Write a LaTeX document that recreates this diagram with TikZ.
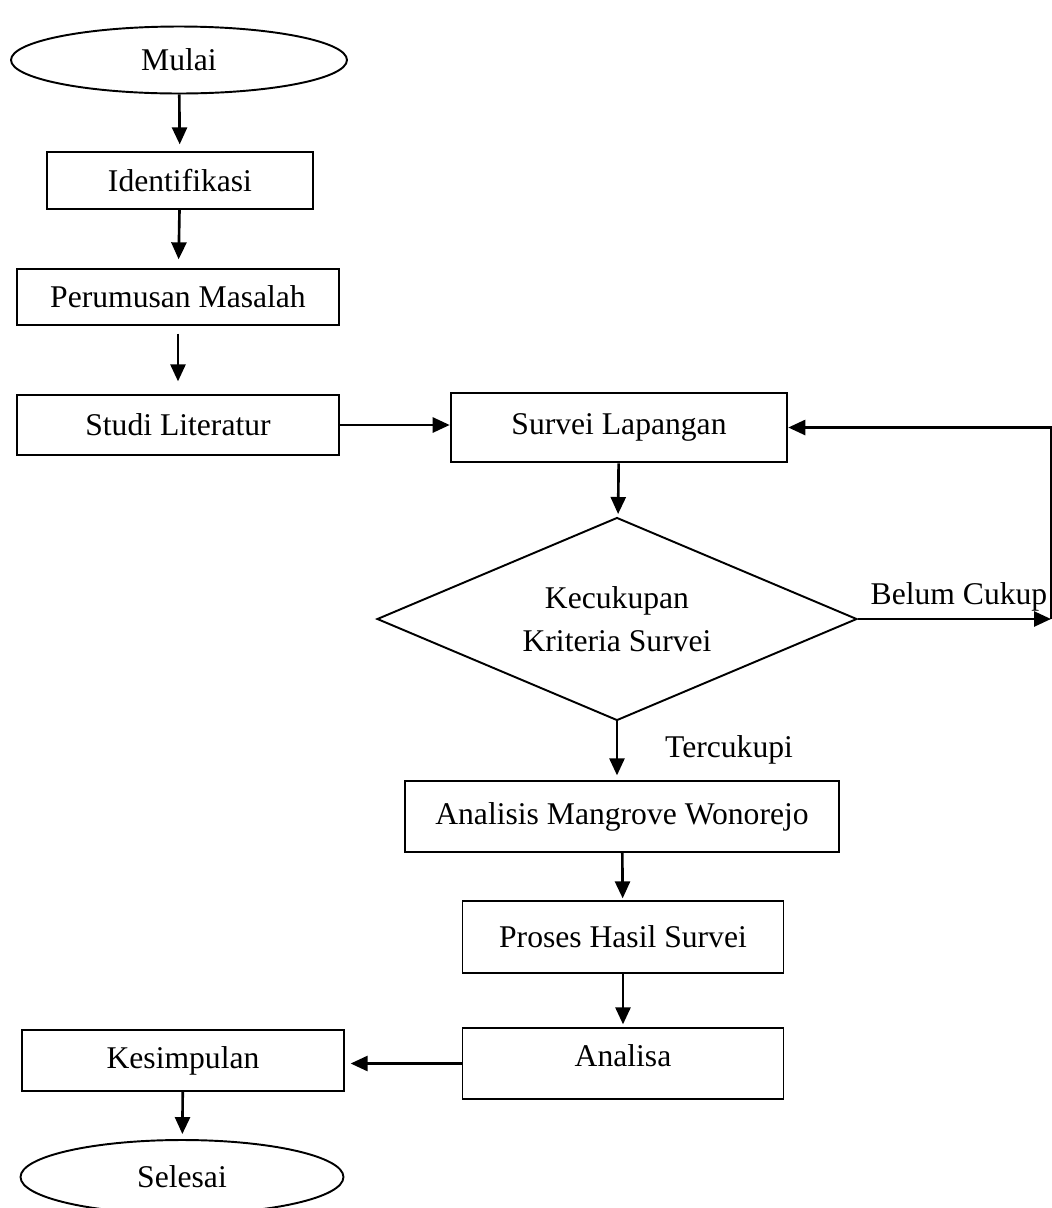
\documentclass[tikz,border=0pt]{standalone}
\usepackage{fontspec}
\setmainfont{Liberation Serif}
\usetikzlibrary{arrows.meta, positioning, shapes.geometric, calc}
\tikzset{
  procbox/.style={draw, line width=0.75pt, inner sep=2pt},
  termnode/.style={draw, ellipse, line width=1.1pt, inner sep=0pt},
  decide/.style={draw, diamond, shape aspect=2.4, line width=1.1pt, inner sep=0pt,
    align=center, font=\fontsize{18}{24.5}\selectfont},
  conn/.style={->, line width=1.5pt},
  connlabel/.style={inner sep=0pt}
}

\begin{document}
\begin{tikzpicture}[x=0.02cm, y=-0.02cm, font=\fontsize{18}{22}\selectfont,
  >={Triangle[length=0.34cm, width=0.3cm]}]
  \useasboundingbox (0,0) rectangle (1052,1208);

  \node[termnode, minimum width=6.72cm, minimum height=1.34cm] (mulai) at (179,60) {Mulai};
  \node[procbox, minimum width=5.32cm, minimum height=1.14cm] (ident) at (180,180.5) {Identifikasi};
  \node[procbox, minimum width=6.44cm, minimum height=1.12cm] (rumus) at (178,297) {Perumusan Masalah};
  \node[procbox, minimum width=6.44cm, minimum height=1.2cm] (studi) at (178,425) {Studi Literatur};
  \node[procbox, line width=1.5pt, minimum width=6.72cm, minimum height=1.38cm] (survei) at (619,427.5) {Survei Lapangan};
  \node[decide, minimum width=9.6cm, minimum height=4.06cm] (cek) at (617,619) {Kecukupan\\Kriteria Survei};
  \node[procbox, minimum width=8.68cm, minimum height=1.42cm] (anmang) at (622,816.5) {Analisis Mangrove Wonorejo};
  \node[procbox, minimum width=6.42cm, minimum height=1.44cm] (proses) at (623,937) {Proses Hasil Survei};
  \node[procbox, minimum width=6.42cm, minimum height=1.42cm, text depth=0.32cm] (analisa) at (623,1063.5) {Analisa};
  \node[procbox, minimum width=6.44cm, minimum height=1.22cm] (kesim) at (183,1060.5) {Kesimpulan};
  \node[termnode, minimum width=6.46cm, minimum height=1.48cm] (selesai) at (182,1177) {Selesai};

  \coordinate (balik) at (1051,619);
  \node[connlabel] (belum) at (959,597) {Belum Cukup};
  \node[connlabel] (cukup) at (729,750) {Tercukupi};

  \draw[conn, shorten >=0.14cm] (mulai) -- (ident);
  \draw[conn, shorten >=0.18cm] (ident) -- (rumus);
  \draw[conn, shorten <=0.16cm, shorten >=0.26cm] (rumus) -- (studi);
  \draw[conn] (studi.east) -- (studi.east -| survei.west);
  \draw[conn, shorten >=0.06cm] (survei) -- (cek);
  \draw[conn] (cek.east) -- (balik);
  \draw[conn] (balik) |- (survei.east);
  \draw[conn, shorten >=0.1cm] (cek.south) -- (cek.south |- anmang.north);
  \draw[conn, shorten >=0.04cm] (anmang) -- (proses);
  \draw[conn, shorten >=0.06cm] (proses) -- (analisa);
  \draw[conn, shorten >=0.12cm] (analisa.west) -- (analisa.west -| kesim.east);
  \draw[conn, shorten >=0.1cm] (kesim) -- (selesai);
\end{tikzpicture}
\end{document}
